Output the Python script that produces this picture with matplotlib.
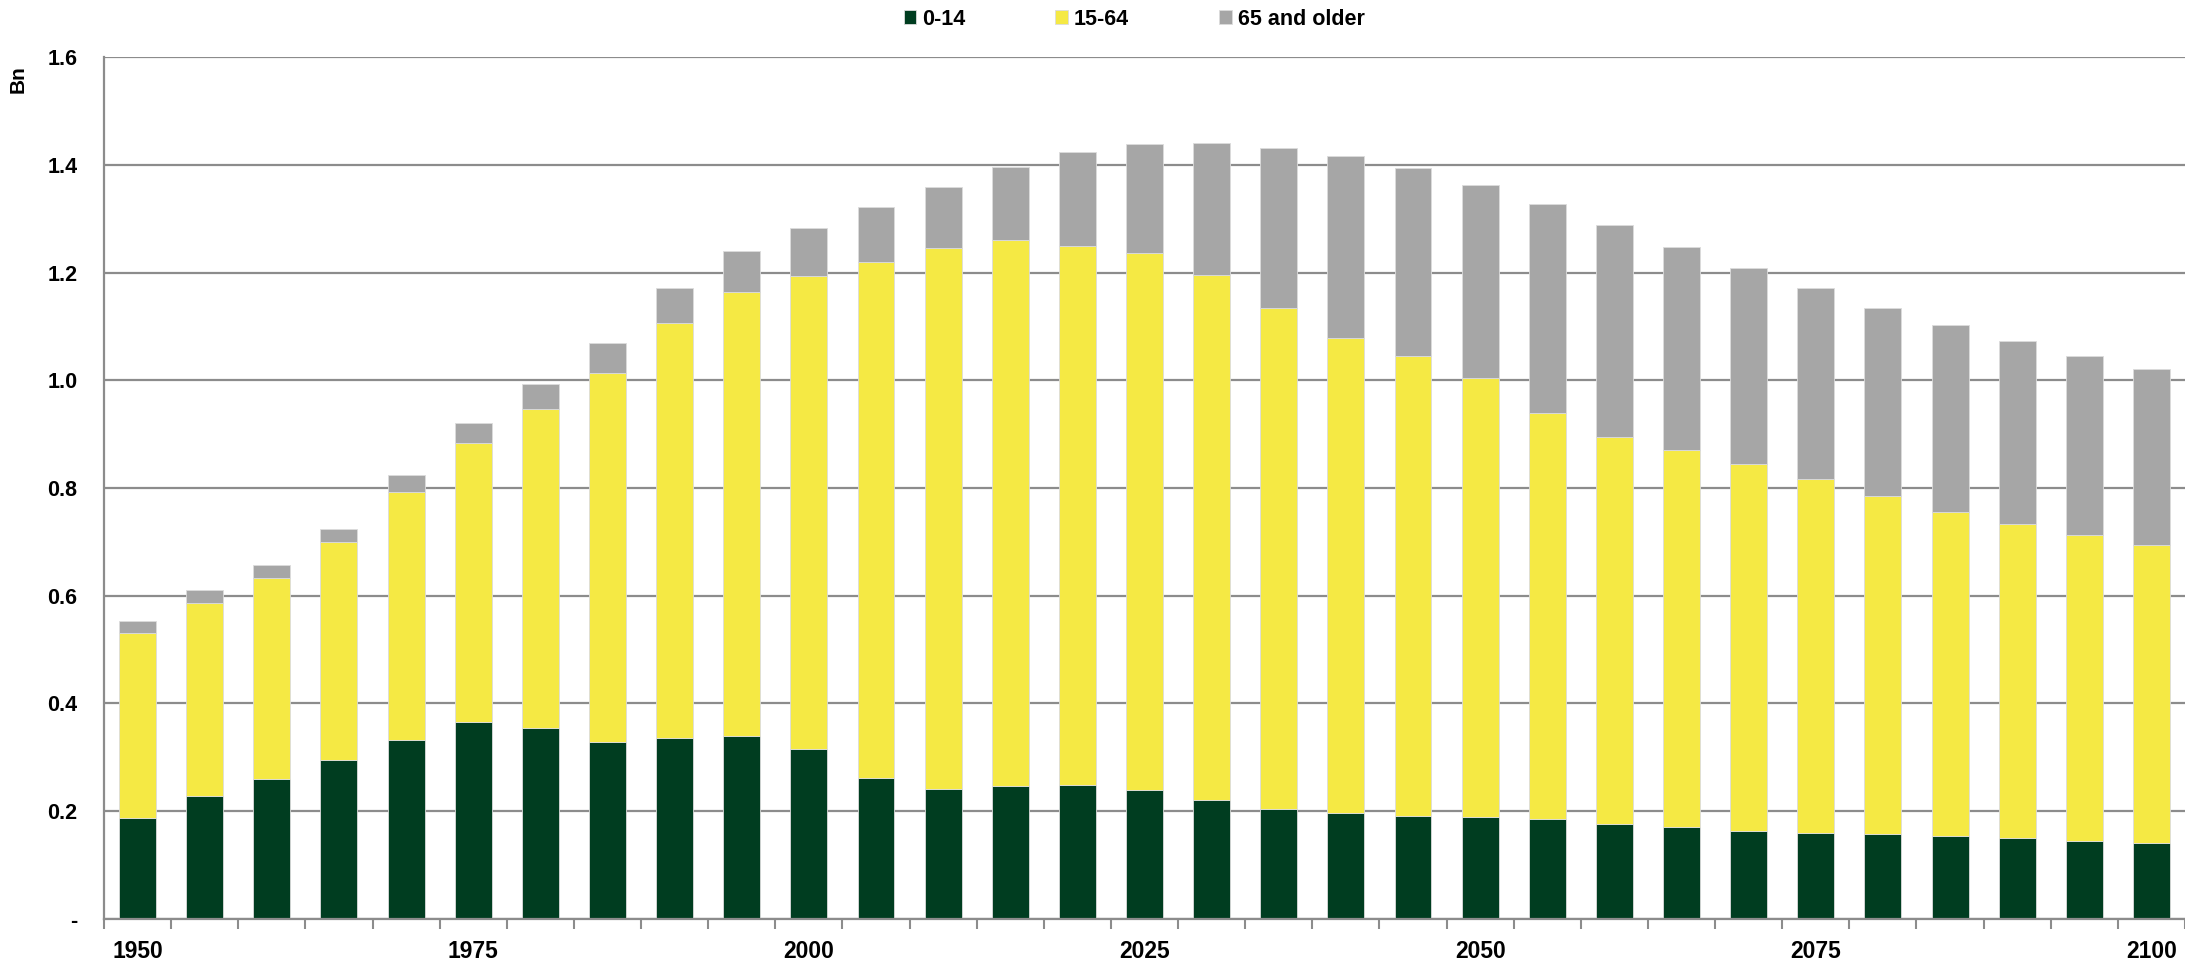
import numpy as np
import matplotlib
matplotlib.use("Agg")
import matplotlib.pyplot as plt
from matplotlib.ticker import FixedLocator, FuncFormatter

plt.rcParams['font.family'] = ['Liberation Sans', 'DejaVu Sans']
plt.rcParams['font.weight'] = 'bold'

# population by age group, billions
years = list(range(1950, 2101, 5))
age_0_14 = [0.188, 0.228, 0.259, 0.296, 0.332, 0.366, 0.354, 0.328, 0.336, 0.339,
            0.315, 0.262, 0.242, 0.246, 0.248, 0.239, 0.221, 0.205, 0.196, 0.192,
            0.189, 0.185, 0.177, 0.170, 0.163, 0.160, 0.157, 0.154, 0.150, 0.145, 0.141]
age_15_64 = [0.342, 0.358, 0.374, 0.403, 0.461, 0.518, 0.593, 0.686, 0.770, 0.824,
             0.879, 0.957, 1.003, 1.015, 1.002, 0.997, 0.974, 0.929, 0.883, 0.853,
             0.816, 0.754, 0.718, 0.700, 0.682, 0.657, 0.629, 0.602, 0.583, 0.568, 0.554]
age_65_plus = [0.023, 0.024, 0.024, 0.024, 0.031, 0.037, 0.046, 0.056, 0.066, 0.077,
               0.088, 0.102, 0.114, 0.135, 0.174, 0.203, 0.245, 0.298, 0.337, 0.349,
               0.358, 0.389, 0.393, 0.377, 0.364, 0.354, 0.349, 0.346, 0.339, 0.332, 0.325]
labels = ['0-14', '15-64', '65 and older']
colors = ['#003d20', '#f5e944', '#a6a6a6']
yticks = [0, 0.2, 0.4, 0.6, 0.8, 1.0, 1.2, 1.4, 1.6]
xlabel_years = [1950, 1975, 2000, 2025, 2050, 2075, 2100]

fig = plt.figure(figsize=(21.85, 9.63), dpi=100)
ax = fig.add_axes([0.0476, 0.0457, 0.9524, 0.8951])

x = np.arange(len(years))
bottom = np.zeros(len(years))
for vals, lab, col in zip([age_0_14, age_15_64, age_65_plus], labels, colors):
    ax.bar(x, vals, width=0.55, bottom=bottom, color=col, label=lab,
           edgecolor='#dcdcdc', linewidth=0.6, zorder=3)
    bottom += np.array(vals)

ax.set_xlim(-0.5, len(years) - 0.5)
ax.set_ylim(0, 1.6)

ax.set_yticks(yticks)
ax.yaxis.set_major_formatter(FuncFormatter(lambda v, p: '-' if v == 0 else f'{v:.1f}'))
ax.tick_params(axis='y', length=0, pad=19, labelsize=15.5)
ax.grid(axis='y', color='#8c8c8c', linewidth=1.6, zorder=0)

ax.set_xticks([years.index(y) for y in xlabel_years])
ax.set_xticklabels([str(y) for y in xlabel_years])
ax.tick_params(axis='x', which='major', length=0, pad=15, labelsize=16.5)
ax.xaxis.set_minor_locator(FixedLocator(np.arange(-0.5, len(years), 1)))
ax.tick_params(axis='x', which='minor', length=7, width=1.5, color='#8c8c8c')

for s in ['top', 'right']:
    ax.spines[s].set_visible(False)
for s in ['left', 'bottom']:
    ax.spines[s].set_color('#8c8c8c')
    ax.spines[s].set_linewidth(1.6)
    ax.spines[s].set_zorder(4)

fig.text(0.0085, 0.918, 'Bn', rotation=90, fontsize=15, fontweight='bold',
         ha='center', va='center')

fig.legend(loc='center', bbox_to_anchor=(0.519, 0.98), ncol=3, frameon=False,
           fontsize=15.5, handlelength=0.6, handleheight=0.6, handletextpad=0.25,
           columnspacing=4.2)

fig.savefig('out.png', dpi=100)
